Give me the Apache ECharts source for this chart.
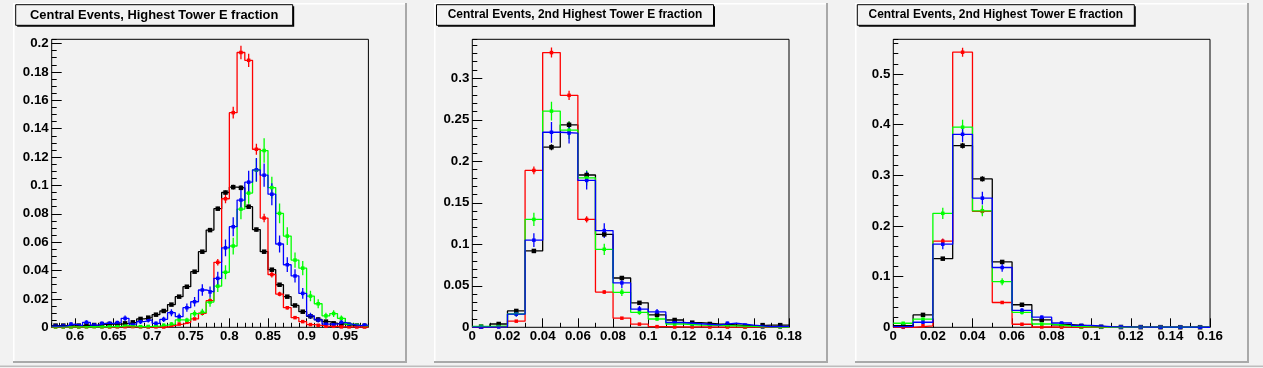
<!DOCTYPE html>
<html><head><meta charset="utf-8">
<script src="https://cdn.jsdelivr.net/npm/echarts@6/dist/echarts.min.js"></script>
<style>html,body{margin:0;padding:0;background:#f2f2f2}#c{width:1263px;height:368px}</style>
</head><body><div id="c"></div>
<script>
// ---------------- data ----------------
const titles = [
  'Central Events, Highest Tower E fraction',
  'Central Events, 2nd Highest Tower E fraction',
  'Central Events, 2nd Highest Tower E fraction'
];
const binWidth = 0.01;

// Panel 1: highest tower E fraction
const centers1 = [0.575,0.585,0.595,0.605,0.615,0.625,0.635,0.645,0.655,0.665,0.675,0.685,0.695,0.705,0.715,0.725,0.735,0.745,0.755,0.765,0.775,0.785,0.795,0.805,0.815,0.825,0.835,0.845,0.855,0.865,0.875,0.885,0.895,0.905,0.915,0.925,0.935,0.945,0.955,0.965,0.975];
const black1 = [0.0012,0.0012,0.0010,0.0012,0.0014,0.0016,0.0020,0.0023,0.0023,0.0028,0.0035,0.0059,0.0068,0.0089,0.0115,0.0160,0.0216,0.0286,0.0392,0.0533,0.0685,0.0836,0.0950,0.0988,0.0983,0.0850,0.0689,0.0533,0.0406,0.0300,0.0216,0.0154,0.0110,0.0078,0.0055,0.0040,0.0028,0.0023,0.0016,0.0012,0.0010];
const red1   = [0.0002,0.0002,0.0003,0.0002,0.0003,0.0005,0.0003,0.0002,0.0003,0.0004,0.0005,0.0003,0.0002,0.0003,0.0002,0.0014,0.0023,0.0035,0.0059,0.0099,0.0188,0.0458,0.0906,0.1513,0.1937,0.1882,0.1255,0.0770,0.0372,0.0234,0.0138,0.0068,0.0040,0.0019,0.0014,0.0007,0.0007,0.0003,0.0003,0.0002,0.0002];
const green1 = [0.0003,0.0003,0.0003,0.0003,0.0004,0.0005,0.0004,0.0005,0.0006,0.0012,0.0008,0.0005,0.0006,0.0008,0.0015,0.0023,0.0052,0.0050,0.0096,0.0106,0.0178,0.0290,0.0388,0.0573,0.0833,0.0946,0.1108,0.1246,0.0985,0.0803,0.0643,0.0474,0.0417,0.0220,0.0166,0.0081,0.0097,0.0063,0.0022,0.0014,0.0011];
const blue1  = [0.0008,0.0010,0.0023,0.0012,0.0035,0.0016,0.0028,0.0028,0.0033,0.0063,0.0023,0.0040,0.0052,0.0028,0.0056,0.0103,0.0075,0.0138,0.0180,0.0263,0.0249,0.0345,0.0560,0.0709,0.0897,0.1023,0.1110,0.1072,0.0938,0.0587,0.0441,0.0362,0.0239,0.0080,0.0052,0.0023,0.0023,0.0035,0.0021,0.0012,0.0016];
const blackErr1 = [0.0002,0.0002,0.0002,0.0002,0.0002,0.0002,0.0002,0.0002,0.0002,0.0003,0.0003,0.0004,0.0004,0.0005,0.0005,0.0006,0.0007,0.0008,0.0010,0.0012,0.0013,0.0014,0.0015,0.0016,0.0016,0.0015,0.0013,0.0012,0.0010,0.0009,0.0007,0.0006,0.0005,0.0004,0.0004,0.0003,0.0003,0.0002,0.0002,0.0002,0.0002];
const redErr1   = [0.0002,0.0002,0.0002,0.0002,0.0002,0.0003,0.0002,0.0002,0.0002,0.0002,0.0003,0.0002,0.0002,0.0002,0.0002,0.0004,0.0005,0.0006,0.0008,0.0011,0.0015,0.0023,0.0032,0.0042,0.0047,0.0047,0.0038,0.0030,0.0021,0.0016,0.0013,0.0009,0.0007,0.0005,0.0004,0.0003,0.0003,0.0002,0.0002,0.0002,0.0002];
const greenErr1 = [0.0004,0.0004,0.0004,0.0004,0.0005,0.0006,0.0005,0.0006,0.0006,0.0009,0.0007,0.0006,0.0006,0.0007,0.0010,0.0012,0.0018,0.0017,0.0024,0.0025,0.0033,0.0042,0.0049,0.0059,0.0071,0.0076,0.0082,0.0087,0.0077,0.0070,0.0063,0.0054,0.0050,0.0037,0.0032,0.0022,0.0024,0.0020,0.0012,0.0009,0.0008];
const blueErr1  = [0.0007,0.0008,0.0012,0.0009,0.0015,0.0010,0.0013,0.0013,0.0014,0.0020,0.0012,0.0016,0.0018,0.0013,0.0019,0.0025,0.0022,0.0029,0.0034,0.0040,0.0039,0.0046,0.0059,0.0067,0.0075,0.0080,0.0083,0.0082,0.0077,0.0060,0.0052,0.0047,0.0038,0.0022,0.0018,0.0012,0.0012,0.0015,0.0011,0.0009,0.0010];

// Panel 2: 2nd highest tower E fraction
const centers2 = [0.005,0.015,0.025,0.035,0.045,0.055,0.065,0.075,0.085,0.095,0.105,0.115,0.125,0.135,0.145,0.155,0.165,0.175];
const black2 = [0.0008,0.0040,0.0197,0.0920,0.2170,0.2440,0.1835,0.1120,0.0594,0.0295,0.0150,0.0088,0.0056,0.0040,0.0028,0.0016,0.0026,0.0026];
const red2   = [0.0003,0.0010,0.0074,0.1890,0.3310,0.2795,0.1300,0.0425,0.0110,0.0038,0.0008,0.0004,0.0004,0.0003,0.0003,0.0002,0.0002,0.0001];
const green2 = [0.0012,0.0016,0.0160,0.1300,0.2605,0.2375,0.1800,0.0940,0.0422,0.0180,0.0100,0.0040,0.0028,0.0022,0.0018,0.0010,0.0005,0.0003];
const blue2  = [0.0002,0.0004,0.0158,0.1050,0.2350,0.2340,0.1770,0.1165,0.0535,0.0220,0.0185,0.0058,0.0043,0.0028,0.0050,0.0026,0.0008,0.0010];
const blackErr2 = [0.0002,0.0005,0.0011,0.0024,0.0037,0.0039,0.0034,0.0026,0.0019,0.0013,0.0010,0.0007,0.0006,0.0005,0.0004,0.0003,0.0004,0.0004];
const redErr2   = [0.0002,0.0003,0.0009,0.0046,0.0060,0.0055,0.0038,0.0022,0.0011,0.0006,0.0003,0.0002,0.0002,0.0002,0.0002,0.0001,0.0001,0.0001];
const greenErr2 = [0.0008,0.0009,0.0028,0.0080,0.0113,0.0105,0.0092,0.0068,0.0046,0.0030,0.0022,0.0015,0.0012,0.0010,0.0009,0.0007,0.0005,0.0004];
const blueErr2  = [0.0004,0.0005,0.0032,0.0083,0.0125,0.0125,0.0110,0.0088,0.0060,0.0038,0.0034,0.0020,0.0017,0.0013,0.0017,0.0012,0.0007,0.0006];

// Panel 3: 2nd highest tower E fraction
const centers3 = [0.005,0.015,0.025,0.035,0.045,0.055,0.065,0.075,0.085,0.095,0.105,0.115,0.125,0.135,0.145,0.155];
const black3 = [0.0035,0.0245,0.1355,0.3585,0.2928,0.1290,0.0445,0.0145,0.0050,0.0026,0.0010,0.0006,0.0004,0.0003,0.0002,0.0002];
const red3   = [0.0000,0.0030,0.1700,0.5430,0.2290,0.0490,0.0060,0.0006,0.0002,0.0001,0.0001,0.0000,0.0000,0.0000,0.0000,0.0000];
const green3 = [0.0080,0.0160,0.2250,0.3950,0.2300,0.0900,0.0295,0.0065,0.0026,0.0008,0.0005,0.0003,0.0002,0.0001,0.0001,0.0001];
const blue3  = [0.0015,0.0100,0.1640,0.3810,0.2550,0.1180,0.0335,0.0200,0.0085,0.0038,0.0015,0.0008,0.0005,0.0002,0.0003,0.0001];
const blackErr3 = [0.0006,0.0015,0.0035,0.0058,0.0052,0.0035,0.0020,0.0011,0.0007,0.0005,0.0003,0.0002,0.0002,0.0002,0.0001,0.0001];
const redErr3   = [0.0000,0.0008,0.0055,0.0090,0.0062,0.0028,0.0010,0.0003,0.0002,0.0001,0.0001,0.0000,0.0000,0.0000,0.0000,0.0000];
const greenErr3 = [0.0022,0.0030,0.0110,0.0145,0.0110,0.0070,0.0040,0.0020,0.0012,0.0007,0.0005,0.0004,0.0003,0.0002,0.0002,0.0002];
const blueErr3  = [0.0010,0.0025,0.0100,0.0150,0.0125,0.0085,0.0045,0.0035,0.0023,0.0015,0.0010,0.0007,0.0005,0.0003,0.0004,0.0002];

// axis ranges and tick labels
const xRange1 = [0.57, 0.98], yMax1 = 0.2030;
const xRange2 = [0, 0.18],    yMax2 = 0.3470;
const xRange3 = [0, 0.16],    yMax3 = 0.5685;
const xTicks1 = [0.6,0.65,0.7,0.75,0.8,0.85,0.9,0.95];
const yTicks1 = [0,0.02,0.04,0.06,0.08,0.1,0.12,0.14,0.16,0.18,0.2];
const xTicks2 = [0,0.02,0.04,0.06,0.08,0.1,0.12,0.14,0.16,0.18];
const yTicks2 = [0,0.05,0.1,0.15,0.2,0.25,0.3];
const xTicks3 = [0,0.02,0.04,0.06,0.08,0.1,0.12,0.14,0.16];
const yTicks3 = [0,0.1,0.2,0.3,0.4,0.5];
const xMinorStep = [0.01, 0.01, 0.01];
const yMinorStep = [0.005, 0.01, 0.02];

// ---------------- build ----------------
const FONT = "'Liberation Sans', Arial, Helvetica, sans-serif";
const COLORS = {black:'#000000', red:'#ff0000', green:'#00ff00', blue:'#0000ff'};
const panels = [
  {centers:centers1, vals:{black:black1, red:red1, green:green1, blue:blue1}, errs:{black:blackErr1, red:redErr1, green:greenErr1, blue:blueErr1}, xr:xRange1, ymax:yMax1, xt:xTicks1, yt:yTicks1},
  {centers:centers2, vals:{black:black2, red:red2, green:green2, blue:blue2}, errs:{black:blackErr2, red:redErr2, green:greenErr2, blue:blueErr2}, xr:xRange2, ymax:yMax2, xt:xTicks2, yt:yTicks2},
  {centers:centers3, vals:{black:black3, red:red3, green:green3, blue:blue3}, errs:{black:blackErr3, red:redErr3, green:greenErr3, blue:blueErr3}, xr:xRange3, ymax:yMax3, xt:xTicks3, yt:yTicks3}
];

const frameLeft = [51.7, 472.3, 893.3];
const frameTop = 39.3, frameW = 316.7, frameH = 288;
const titleFont = [12.9, 11.95, 11.95];
const LW = 1.3;
const fmt = v => String(parseFloat((+v).toFixed(4)));
const labelStyle = {color:'#000', fontSize:13.3, fontWeight:'bold', fontFamily:FONT};

const grids = [], xAxes = [], yAxes = [], series = [];
panels.forEach((p, i) => {
  grids.push({left:frameLeft[i], top:frameTop, width:frameW, height:frameH, show:true,
    borderColor:'#000', borderWidth:1, backgroundColor:'transparent', containLabel:false, outerBoundsMode:'none'});
  xAxes.push({type:'value', gridIndex:i, min:p.xr[0], max:p.xr[1], interval:xMinorStep[i], position:'bottom',
    axisLine:{show:false}, splitLine:{show:false},
    axisTick:{show:true, inside:true, length:4.5, lineStyle:{color:'#000', width:1}},
    axisLabel:Object.assign({customValues:p.xt, formatter:fmt, margin:3, showMinLabel:true, showMaxLabel:true}, labelStyle)});
  xAxes.push({type:'value', gridIndex:i, min:p.xr[0], max:p.xr[1], position:'bottom',
    axisLine:{show:false}, splitLine:{show:false}, axisLabel:{show:false},
    axisTick:{show:true, inside:true, length:9, customValues:p.xt, lineStyle:{color:'#000', width:1}}});
  yAxes.push({type:'value', gridIndex:i, min:0, max:p.ymax, interval:yMinorStep[i], position:'left',
    axisLine:{show:false}, splitLine:{show:false},
    axisTick:{show:true, inside:true, length:5, lineStyle:{color:'#000', width:1}},
    axisLabel:Object.assign({customValues:p.yt, formatter:fmt, margin:3, showMinLabel:true, showMaxLabel:true}, labelStyle)});
  yAxes.push({type:'value', gridIndex:i, min:0, max:p.ymax, position:'left',
    axisLine:{show:false}, splitLine:{show:false}, axisLabel:{show:false},
    axisTick:{show:true, inside:true, length:10, customValues:p.yt, lineStyle:{color:'#000', width:1}}});

  ['black','red','green','blue'].forEach(name => {
    const col = COLORS[name];
    const v = p.vals[name], e = p.errs[name], c = p.centers;
    const edges = c.map((x, k) => [x - binWidth/2, v[k]]);
    edges.push([c[c.length-1] + binWidth/2, v[v.length-1]]);
    series.push({type:'line', xAxisIndex:2*i, yAxisIndex:2*i, data:edges, step:'end', symbol:'none',
      lineStyle:{color:col, width:LW}, silent:true, animation:false, clip:true});
    series.push({type:'custom', xAxisIndex:2*i, yAxisIndex:2*i, silent:true, animation:false, clip:true,
      data:c.map((x, k) => [x, v[k], e[k]]),
      renderItem:(params, api) => {
        const x = api.value(0), y = api.value(1), er = api.value(2);
        if (!er) return null;
        const a = api.coord([x, Math.max(0, y - er)]), b = api.coord([x, y + er]);
        return {type:'line', shape:{x1:a[0], y1:a[1], x2:b[0], y2:b[1]}, style:{stroke:col, lineWidth:LW}};
      }});
    series.push({type:'scatter', xAxisIndex:2*i, yAxisIndex:2*i, data:c.map((x, k) => [x, v[k]]),
      symbol:'rect', symbolSize: name === 'black' ? 4.5 : 3.5, itemStyle:{color:col, opacity:1},
      silent:true, animation:false, clip:true});
  });
});

// pads, bevels, title boxes
const graphics = [];
for (let i = 0; i < 3; i++) {
  const x0 = 13 + 421 * i;
  graphics.push({type:'rect', silent:true, z:-10, shape:{x:x0, y:3, width:394, height:1.5}, style:{fill:'#ffffff'}});
  graphics.push({type:'rect', silent:true, z:-10, shape:{x:x0, y:3, width:1.5, height:359}, style:{fill:'#ffffff'}});
  graphics.push({type:'rect', silent:true, z:-10, shape:{x:x0 + 392, y:3, width:2, height:360}, style:{fill:'#a9a9a9'}});
  graphics.push({type:'rect', silent:true, z:-10, shape:{x:x0, y:361, width:394, height:2}, style:{fill:'#a9a9a9'}});
  const bx = 15.7 + 420.8 * i, by = 4.7, bw = 277, bh = 20.6;
  graphics.push({type:'rect', silent:true, z:10, shape:{x:bx + 1.5, y:by + 1.5, width:bw, height:bh}, style:{fill:'#000'}});
  graphics.push({type:'rect', silent:true, z:11, shape:{x:bx, y:by, width:bw, height:bh}, style:{fill:'#f2f2f2', stroke:'#000', lineWidth:1}});
  graphics.push({type:'text', silent:true, z:12, style:{text:titles[i], x:bx + bw/2, y:by + bh/2,
    textAlign:'center', textVerticalAlign:'middle', align:'center', verticalAlign:'middle',
    font:'bold ' + titleFont[i] + 'px ' + FONT, fill:'#000'}});
}
graphics.push({type:'rect', silent:true, z:-10, shape:{x:0, y:365.5, width:1263, height:1.5}, style:{fill:'#bdbdbd'}});

const chart = echarts.init(document.getElementById('c'), null, {renderer:'canvas', width:1263, height:368});
chart.setOption({
  backgroundColor:'#f2f2f2',
  animation:false,
  textStyle:{fontFamily:FONT},
  grid:grids, xAxis:xAxes, yAxis:yAxes, series:series,
  graphic:{elements:graphics}
});
</script></body></html>
